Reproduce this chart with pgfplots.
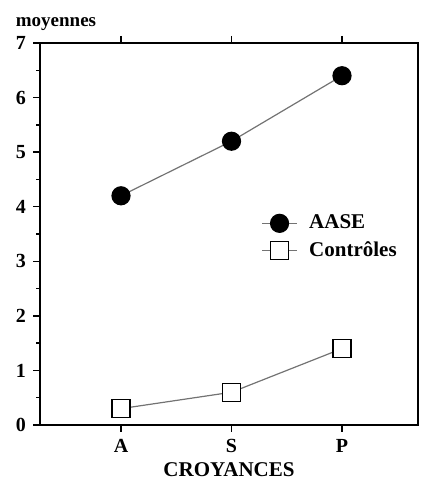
\documentclass[border=0pt]{standalone}
\usepackage{fontspec}
\setmainfont{Liberation Serif}
\usepackage{pgfplots}
\pgfplotsset{compat=1.18}

\begin{document}
\fontsize{10}{12}\selectfont\bfseries
\begin{tikzpicture}
\begin{axis}[
  scale only axis, width=189pt, height=191pt,
  xmin=-0.733, xmax=2.688, ymin=0, ymax=7,
  xtick={0,1,2}, xticklabels={A,S,P},
  ytick={0,1,...,7}, minor y tick num=1,
  xtick pos=both, ytick pos=left, tick align=outside,
  major tick length=3.5pt, minor tick length=2pt,
  axis line style={line width=0.9pt},
  every tick/.style={black, line width=0.7pt},
  tick label style={font=\fontsize{10}{12}\selectfont\bfseries},
  /pgf/number format/assume math mode=true,
  xlabel={CROYANCES}, ylabel={moyennes},
  every axis x label/.style={at={(axis description cs:0.5,0)},anchor=base,yshift=-25.5pt,font=\fontsize{10.5}{12}\selectfont\bfseries},
  every axis y label/.style={at={(axis description cs:0,1)},anchor=base,xshift=8pt,yshift=8pt,font=\fontsize{9.5}{12}\selectfont\bfseries},
  legend style={at={(0.57,0.572)}, anchor=north west, draw=none, fill=none,
    font=\fontsize{10.5}{12}\selectfont\bfseries, row sep=1pt, column sep=4pt},
  legend cell align=left,
]
\addplot[black!55, line width=0.6pt, mark=*, mark size=4.5pt,
  mark options={fill=black, draw=black, solid}] coordinates {(0,4.2) (1,5.2) (2,6.4)};
\addplot[black!55, line width=0.6pt, mark=square*, mark size=4.5pt,
  mark options={fill=white, draw=black, line width=0.75pt, solid}] coordinates {(0,0.3) (1,0.6) (2,1.4)};
\legend{AASE,Contrôles}
\end{axis}
\pgfresetboundingbox
\path[use as bounding box] (current axis.south west) ++(-20pt,-27.5pt) rectangle ([shift={(1.5pt,21.5pt)}]current axis.north east);
\end{tikzpicture}
\end{document}
